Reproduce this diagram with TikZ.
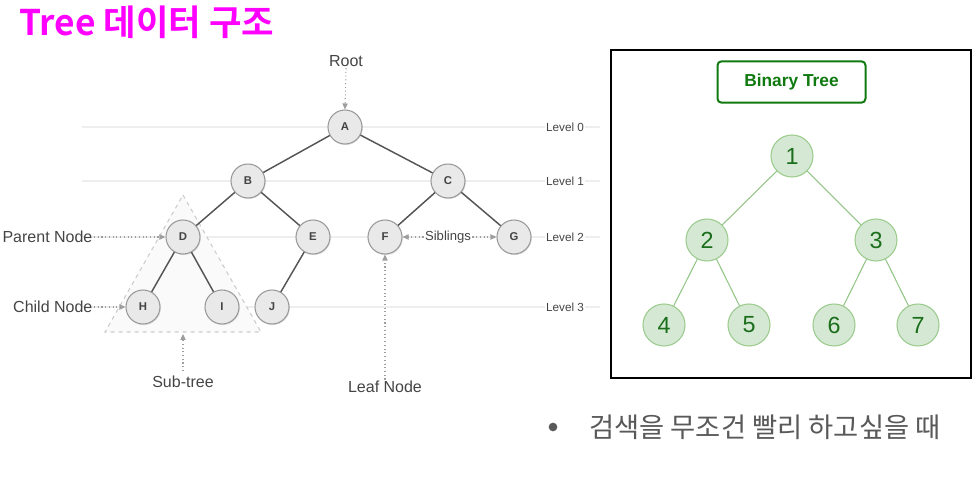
\documentclass[tikz,border=0pt]{standalone}
\usepackage{fontspec}
\setmainfont{Liberation Sans}
\newfontfamily\kr{Noto Sans CJK KR}[BoldFont={Noto Sans CJK KR Bold}]
\usetikzlibrary{arrows.meta,shadows}
\definecolor{labelgray}{HTML}{444444}
\definecolor{edgegray}{HTML}{555555}
\definecolor{circfill}{HTML}{E9E9E9}
\definecolor{circdraw}{HTML}{9A9A9A}
\definecolor{levelline}{HTML}{EEEEEE}
\definecolor{arrowgray}{HTML}{9E9E9E}
\definecolor{gfill}{HTML}{D5E8D4}
\definecolor{gdraw}{HTML}{9CCB8E}
\definecolor{gedge}{HTML}{93C586}
\definecolor{gtext}{HTML}{1B6E1B}
\definecolor{btgreen}{HTML}{107A10}
\definecolor{bullettext}{HTML}{595959}
\definecolor{titlemag}{HTML}{FF00FF}
\tikzset{
  gnode/.style={circle, draw=circdraw, fill=circfill, line width=0.8pt,
    minimum size=25.5pt, inner sep=0pt, font=\bfseries\fontsize{8.5}{9}\selectfont, text=labelgray,
    drop shadow={opacity=0.25, shadow xshift=0.6pt, shadow yshift=-0.8pt}},
  tedge/.style={draw=edgegray, line width=1.1pt},
  lbl/.style={text=labelgray, font=\fontsize{12}{14}\selectfont, inner sep=1pt},
  lvl/.style={text=labelgray, font=\fontsize{8.8}{10}\selectfont, fill=white, inner sep=1pt},
  darr/.style={draw=arrowgray, dotted, line width=0.8pt, -{Triangle[length=4.5pt,width=4pt]}},
  bnode/.style={circle, draw=gdraw, fill=gfill, line width=0.8pt, minimum size=31.5pt,
    inner sep=0pt, text=gtext, font=\fontsize{17.5}{20}\selectfont},
  bedge/.style={draw=gedge, line width=0.8pt}
}
\begin{document}
\begin{tikzpicture}[x=0.75pt,y=-0.75pt]
\useasboundingbox (0,0) rectangle (979,477);
% title
\node[anchor=west, text=titlemag, inner sep=0pt] (title) at (19,22)
  {\kr\bfseries\fontsize{26.5}{30}\selectfont Tree 데이터 구조};
% level lines
\foreach \yy in {127,181,237,307} \draw[levelline, line width=0.8pt] (82,\yy) -- (600,\yy);
% subtree triangle
\draw[draw=black!20, fill=black!2, dashed, line width=0.8pt] (183,195) -- (261,332) -- (105,332) -- cycle;
% level labels
\node[lvl] (l0) at (565,127) {Level 0};
\node[lvl] (l1) at (565,181) {Level 1};
\node[lvl] (l2) at (565,237) {Level 2};
\node[lvl] (l3) at (565,307) {Level 3};
% nodes
\node[gnode] (A) at (345,127) {A};
\node[gnode] (B) at (248,181) {B};
\node[gnode] (C) at (448,181) {C};
\node[gnode] (D) at (183,237) {D};
\node[gnode] (E) at (313,237) {E};
\node[gnode] (F) at (385,237) {F};
\node[gnode] (G) at (514,237) {G};
\node[gnode] (H) at (143,307) {H};
\node[gnode] (I) at (222,307) {I};
\node[gnode] (J) at (272,307) {J};
% edges
\draw[tedge] (A) -- (B);
\draw[tedge] (A) -- (C);
\draw[tedge] (B) -- (D);
\draw[tedge] (B) -- (E);
\draw[tedge] (C) -- (F);
\draw[tedge] (C) -- (G);
\draw[tedge] (D) -- (H);
\draw[tedge] (D) -- (I);
\draw[tedge] (E) -- (J);
% annotations
\node[lbl] (root) at (346,61) {Root};
\draw[darr] (root.south) -- (A.north);
\node[lbl, anchor=east] (parent) at (94,237) {Parent Node};
\draw[darr] (parent.east) -- (D.west);
\node[lbl, anchor=east] (child) at (94,307) {Child Node};
\draw[darr] (child.east) -- (H.west);
\node[lvl, font=\fontsize{9.8}{11}\selectfont] (sib) at (448,237) {Siblings};
\draw[darr] (sib.west) -- (F.east);
\draw[darr] (sib.east) -- (G.west);
\node[lbl] (subtree) at (183,382) {Sub-tree};
\coordinate (subtop) at (183,334);
\draw[darr] (183,371) -- (subtop);
\node[lbl] (leaf) at (385,387) {Leaf Node};
\draw[darr] (leaf.north) -- (F.south);
% right panel
\draw[black, line width=1pt] (611,50) rectangle (971,378);
\node[draw=btgreen, rounded corners=3pt, line width=1.5pt, minimum width=111pt, minimum height=31pt,
  text=btgreen, font=\bfseries\fontsize{13}{15}\selectfont] (bt) at (791.5,82) {Binary Tree};
\node[bnode] (n1) at (792,156) {1};
\node[bnode] (n2) at (707,240) {2};
\node[bnode] (n3) at (876,240) {3};
\node[bnode] (n4) at (664,325) {4};
\node[bnode] (n5) at (749,325) {5};
\node[bnode] (n6) at (834,325) {6};
\node[bnode] (n7) at (918,325) {7};
\draw[bedge] (n1) -- (n2);
\draw[bedge] (n1) -- (n3);
\draw[bedge] (n2) -- (n4);
\draw[bedge] (n2) -- (n5);
\draw[bedge] (n3) -- (n6);
\draw[bedge] (n3) -- (n7);
% bullet
\node[circle, fill=bullettext, minimum size=6.5pt, inner sep=0pt] (bul) at (553,427) {};
\node[anchor=west, text=bullettext, inner sep=0pt] (btxt) at (589,427)
  {\kr\fontsize{20.5}{24}\selectfont 검색을 무조건 빨리 하고싶을 때};
\end{tikzpicture}
\end{document}
